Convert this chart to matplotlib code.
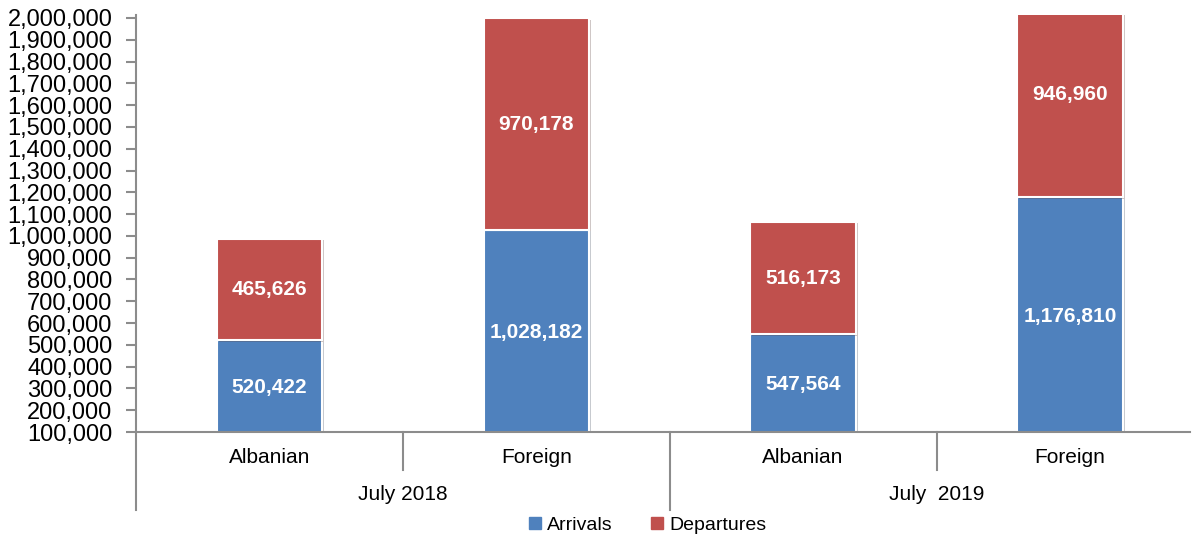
import matplotlib.pyplot as plt
import matplotlib.patheffects as pe
from matplotlib.lines import Line2D
from matplotlib.ticker import FuncFormatter

plt.rcParams['font.family'] = ['Liberation Sans', 'DejaVu Sans']

categories = ['Albanian', 'Foreign', 'Albanian', 'Foreign']
periods = ['July 2018', 'July  2019']
arrivals = [520422, 1028182, 547564, 1176810]
departures = [465626, 970178, 516173, 946960]

blue = '#4F81BD'
red = '#C0504D'
grey = '#8C8C8C'
ymin, ymax = 100000, 2013700

fig = plt.figure(figsize=(11.93, 5.35), dpi=100)
ax = fig.add_axes([0.114, 0.1925, 0.8835, 0.7795])

x = list(range(len(categories)))
shadow = [pe.SimplePatchShadow(offset=(1.5, -1), alpha=0.25), pe.Normal()]
b1 = ax.bar(x, arrivals, width=0.395, color=blue, edgecolor='white', linewidth=1.5)
b2 = ax.bar(x, departures, width=0.395, bottom=arrivals, color=red, edgecolor='white', linewidth=1.5)
for b in list(b1) + list(b2):
    b.set_path_effects(shadow)

for i in x:
    y_a = (max(0, ymin) + arrivals[i]) / 2
    ax.text(i, y_a - 8000, f'{arrivals[i]:,}', ha='center', va='center', color='white',
            fontsize=15, fontweight='bold')
    y_d = arrivals[i] + departures[i] / 2
    ax.text(i, y_d, f'{departures[i]:,}', ha='center', va='center', color='white',
            fontsize=15, fontweight='bold')

ax.set_xlim(-0.5, 3.45)
ax.set_ylim(ymin, ymax)
ax.set_yticks(range(100000, 2000001, 100000))
ax.yaxis.set_major_formatter(FuncFormatter(lambda v, p: f'{int(v):,}'))
ax.tick_params(axis='y', labelsize=17, length=7, width=1.5, color=grey, pad=10)
ax.set_xticks([])

for s in ['top', 'right']:
    ax.spines[s].set_visible(False)
for s in ['left', 'bottom']:
    ax.spines[s].set_color(grey)
    ax.spines[s].set_linewidth(1.5)

# multi-level category axis
tr = ax.get_xaxis_transform()
for xs in [0.5, 2.5]:
    ax.plot([xs, xs], [0, -0.091], color=grey, lw=1.5, transform=tr, clip_on=False)
for xs in [-0.5, 1.5]:
    ax.plot([xs, xs], [0, -0.187], color=grey, lw=1.5, transform=tr, clip_on=False)
for i, c in enumerate(categories):
    ax.text(i, -0.062, c, ha='center', va='center', fontsize=15, transform=tr)
for j, p in enumerate(periods):
    ax.text(0.5 + 2 * j, -0.151, p, ha='center', va='center', fontsize=15, transform=tr)

handles = [Line2D([], [], marker='s', ls='', color=blue, markersize=8),
           Line2D([], [], marker='s', ls='', color=red, markersize=8)]
fig.legend(handles, ['Arrivals', 'Departures'], loc='center', bbox_to_anchor=(0.543, 0.018),
           ncol=2, frameon=False, fontsize=14, handlelength=0.6, handletextpad=0.3,
           columnspacing=2.0, borderpad=0)

fig.savefig('out.png', dpi=100)
